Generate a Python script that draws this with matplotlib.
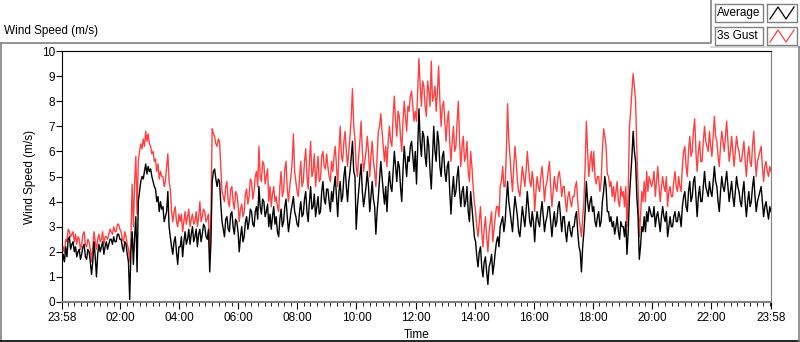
import numpy as np
import matplotlib.pyplot as plt
from matplotlib.lines import Line2D
from matplotlib.ticker import FixedLocator

# Wind speed (m/s) read every 2.5 minutes from 23:58, one row per hour
avg = [
    1.5, 1.9, 1.6, 2.2, 1.8, 2.5, 2.6, 2.1, 2.3, 2.4, 2.0, 2.2, 1.8, 2.0, 2.1, 1.7, 1.9, 2.2, 2.3, 1.8, 1.7, 2.1, 2.0, 1.6,
    1.1, 1.6, 2.4, 1.8, 1.0, 1.9, 2.3, 2.0, 2.2, 2.4, 1.9, 2.2, 2.4, 2.1, 2.3, 2.5, 2.5, 2.3, 2.6, 2.4, 2.4, 2.7, 2.7, 2.5,
    2.5, 2.2, 2.0, 2.4, 2.3, 1.9, 1.6, 0.1, 2.0, 2.8, 1.5, 2.6, 3.4, 1.2, 4.0, 4.4, 4.8, 5.0, 4.9, 5.2, 5.5, 5.1, 5.4, 5.2,
    5.3, 5.0, 4.8, 4.6, 4.5, 4.0, 4.2, 3.6, 4.0, 3.7, 3.8, 3.2, 3.4, 3.6, 4.4, 3.0, 2.6, 2.2, 1.9, 2.4, 2.6, 2.0, 1.5, 2.2,
    2.2, 2.6, 1.8, 2.4, 2.8, 2.3, 2.5, 2.9, 2.3, 2.7, 3.0, 2.4, 2.6, 2.9, 2.2, 2.7, 2.9, 2.4, 2.7, 3.1, 3.0, 2.6, 2.5, 2.9,
    1.2, 2.4, 4.8, 5.2, 5.3, 4.9, 4.6, 4.9, 4.8, 3.9, 3.2, 2.9, 2.6, 3.3, 3.4, 2.9, 2.8, 3.5, 3.6, 3.0, 2.7, 3.3, 3.2, 2.8,
    2.0, 2.6, 3.0, 2.4, 2.6, 3.2, 3.4, 2.9, 3.2, 3.7, 3.6, 3.1, 3.0, 3.6, 3.8, 3.3, 4.6, 3.8, 3.5, 4.1, 4.0, 3.4, 3.6, 3.9,
    3.0, 3.5, 2.9, 3.4, 3.8, 3.1, 3.4, 2.8, 2.6, 3.3, 3.7, 3.0, 3.2, 3.8, 4.1, 3.4, 2.8, 3.2, 3.6, 3.9, 4.2, 3.6, 3.4, 3.1,
    3.0, 3.6, 4.0, 3.4, 3.5, 4.1, 4.4, 3.6, 3.2, 4.0, 4.6, 3.7, 3.8, 4.3, 3.4, 3.8, 4.2, 3.5, 3.6, 4.4, 4.8, 4.1, 3.9, 4.5,
    4.5, 4.0, 3.6, 4.4, 4.0, 4.6, 5.0, 4.2, 3.4, 4.4, 4.8, 4.0, 4.2, 5.0, 5.4, 4.6, 4.0, 4.8, 5.2, 5.8, 6.4, 5.2, 5.0, 2.9,
    3.8, 4.4, 5.0, 5.5, 4.4, 3.8, 4.2, 4.6, 5.2, 4.6, 3.6, 4.2, 4.8, 4.1, 3.8, 2.7, 3.6, 4.2, 4.9, 5.6, 5.0, 4.4, 3.9, 4.6,
    3.6, 4.6, 5.2, 4.6, 4.4, 5.2, 6.0, 5.4, 4.8, 5.6, 5.4, 4.6, 4.0, 5.2, 6.2, 5.6, 5.0, 5.8, 5.6, 6.2, 6.4, 5.8, 5.2, 6.0,
    4.7, 6.2, 7.7, 6.4, 5.8, 6.8, 6.6, 5.8, 5.4, 6.6, 6.2, 5.2, 4.5, 5.8, 7.0, 6.0, 5.6, 6.8, 6.4, 5.4, 5.0, 5.8, 6.0, 5.2,
    4.8, 5.4, 5.6, 4.4, 3.5, 4.4, 5.0, 4.2, 4.4, 5.0, 5.4, 4.4, 3.8, 4.4, 4.6, 3.8, 4.0, 4.6, 3.6, 3.2, 4.4, 3.8, 3.2, 2.6,
    2.4, 1.8, 1.4, 2.0, 2.2, 1.4, 1.0, 1.6, 1.8, 1.2, 0.7, 1.4, 1.6, 1.9, 1.1, 1.5, 2.0, 2.4, 2.6, 2.2, 3.0, 3.2, 3.4, 2.8,
    3.2, 4.0, 4.8, 4.0, 3.6, 3.2, 2.8, 3.6, 4.2, 3.8, 3.4, 2.8, 2.6, 3.2, 3.8, 3.4, 3.0, 3.6, 4.4, 3.8, 3.2, 3.0, 3.6, 3.2,
    2.4, 3.2, 3.6, 3.2, 3.0, 3.6, 4.0, 3.4, 2.8, 3.2, 3.4, 3.8, 3.8, 3.2, 2.6, 3.2, 3.6, 3.0, 3.2, 3.8, 4.0, 3.4, 2.8, 3.4,
    3.4, 2.8, 2.4, 3.0, 3.2, 2.8, 2.6, 3.0, 3.0, 3.4, 3.6, 2.8, 2.2, 2.0, 1.2, 2.2, 2.8, 3.6, 4.8, 4.0, 3.6, 4.0, 4.2, 3.6,
    3.8, 3.2, 3.0, 3.4, 3.6, 3.0, 3.2, 4.0, 4.4, 5.0, 4.6, 3.6, 3.6, 3.2, 3.4, 3.0, 3.2, 2.7, 3.0, 3.4, 2.8, 2.5, 3.2, 3.0,
    3.0, 2.6, 3.2, 1.9, 2.8, 4.2, 5.0, 5.8, 6.8, 6.0, 5.6, 4.2, 3.4, 1.7, 2.2, 3.0, 2.8, 3.4, 2.8, 3.6, 3.2, 3.8, 3.6, 3.4,
    3.4, 3.8, 3.0, 3.4, 3.6, 3.2, 2.8, 3.4, 3.8, 3.4, 3.2, 3.6, 2.6, 3.0, 3.4, 3.0, 3.0, 3.4, 3.6, 3.2, 3.2, 3.6, 3.4, 3.0,
    3.8, 4.2, 4.4, 3.8, 3.6, 4.4, 4.8, 4.0, 4.2, 4.8, 5.0, 4.2, 3.4, 4.2, 4.6, 4.0, 4.0, 4.6, 5.2, 4.6, 4.4, 4.2, 4.8, 4.4,
    4.2, 4.8, 5.4, 4.8, 4.6, 4.0, 3.6, 4.4, 5.0, 4.6, 4.4, 4.8, 5.2, 4.6, 4.0, 4.4, 4.8, 4.2, 3.8, 4.4, 5.0, 4.6, 4.4, 4.0,
    3.8, 4.4, 4.8, 4.0, 3.4, 4.0, 4.4, 3.8, 4.0, 4.6, 5.0, 4.2, 3.6, 4.0, 4.2, 4.4, 4.6, 4.0, 3.4, 3.8, 4.0, 3.6, 3.3, 3.8,
    3.6,
]
gust = [
    1.8, 2.2, 2.0, 2.5, 2.4, 2.9, 2.8, 2.6, 2.7, 2.8, 2.4, 2.7, 2.3, 2.6, 2.5, 2.1, 2.3, 2.7, 2.8, 2.3, 2.2, 2.5, 2.4, 2.1,
    1.6, 2.2, 2.8, 2.4, 2.1, 2.5, 2.7, 2.4, 2.5, 2.8, 2.3, 2.6, 2.6, 2.5, 2.7, 2.9, 2.8, 2.7, 3.0, 2.8, 2.8, 3.1, 3.1, 2.9,
    2.8, 2.5, 2.4, 2.8, 2.6, 2.3, 2.1, 1.6, 2.6, 4.7, 3.0, 4.8, 5.8, 3.5, 5.6, 6.0, 6.3, 6.1, 6.5, 6.2, 6.8, 6.4, 6.7, 6.3,
    6.2, 5.9, 6.0, 5.6, 5.7, 5.2, 5.5, 4.9, 5.2, 5.0, 5.0, 4.6, 4.8, 5.4, 5.9, 4.8, 4.5, 3.6, 3.2, 3.6, 3.8, 3.2, 3.0, 3.5,
    3.2, 3.5, 2.8, 3.2, 3.6, 3.1, 3.4, 3.7, 3.0, 3.3, 3.5, 3.1, 3.2, 3.6, 3.0, 3.4, 4.0, 3.2, 3.4, 3.7, 3.6, 3.2, 3.3, 3.5,
    1.8, 3.5, 6.9, 6.7, 6.6, 6.3, 6.2, 6.5, 6.4, 5.4, 4.4, 4.2, 4.0, 4.6, 4.8, 4.0, 3.8, 4.5, 4.6, 4.0, 3.7, 4.4, 4.3, 3.9,
    3.2, 3.7, 3.9, 3.4, 3.6, 4.3, 4.5, 3.9, 4.2, 4.9, 4.8, 4.1, 4.4, 5.0, 5.2, 4.6, 6.2, 5.0, 4.8, 5.6, 5.5, 4.7, 5.0, 5.3,
    4.0, 4.6, 3.8, 4.3, 4.6, 4.0, 4.2, 3.8, 3.6, 4.6, 5.2, 4.2, 4.4, 5.3, 5.6, 4.5, 4.0, 4.6, 5.0, 5.6, 6.7, 5.2, 4.8, 4.4,
    4.2, 5.0, 5.6, 4.6, 4.8, 5.6, 6.1, 5.0, 4.5, 5.6, 6.4, 5.0, 5.2, 5.9, 4.6, 5.2, 5.8, 4.8, 4.9, 5.8, 6.0, 5.4, 5.3, 5.9,
    5.4, 5.0, 4.8, 5.6, 5.2, 5.8, 6.2, 5.4, 4.6, 6.0, 7.0, 5.8, 5.6, 6.4, 6.8, 6.0, 5.4, 6.0, 6.6, 7.4, 8.5, 7.0, 6.5, 5.4,
    5.0, 5.8, 6.4, 7.2, 6.0, 5.2, 5.6, 6.0, 6.6, 6.0, 5.0, 5.8, 6.4, 5.6, 5.2, 4.6, 5.8, 6.8, 7.0, 7.5, 6.8, 6.2, 5.6, 6.2,
    5.4, 6.4, 7.0, 6.4, 6.2, 7.4, 8.2, 7.2, 6.6, 7.6, 7.4, 6.6, 6.0, 7.2, 8.0, 7.4, 6.8, 7.8, 7.6, 8.2, 8.4, 7.8, 7.2, 7.6,
    7.2, 8.4, 9.7, 8.6, 7.8, 8.8, 8.6, 7.8, 7.4, 8.8, 8.4, 7.8, 9.6, 8.0, 8.2, 8.6, 7.6, 8.4, 9.4, 8.0, 7.0, 7.8, 8.0, 7.2,
    6.4, 7.2, 7.6, 6.4, 5.6, 6.4, 7.0, 6.0, 6.2, 7.2, 8.0, 6.4, 5.4, 6.2, 6.6, 5.6, 5.8, 6.4, 5.2, 4.8, 6.0, 5.4, 4.6, 4.0,
    3.6, 3.0, 2.6, 3.2, 3.8, 2.8, 2.2, 2.9, 3.4, 2.6, 2.0, 2.8, 3.2, 3.6, 2.4, 2.9, 3.4, 3.8, 3.8, 3.4, 4.6, 4.8, 5.4, 4.6,
    4.6, 6.0, 7.9, 6.4, 5.8, 5.0, 4.4, 5.4, 6.2, 5.6, 4.8, 4.4, 4.2, 4.8, 5.4, 5.0, 4.6, 5.2, 6.0, 5.4, 4.8, 4.6, 5.2, 4.8,
    3.6, 4.4, 5.0, 4.6, 4.4, 5.0, 5.4, 4.8, 4.0, 4.6, 4.8, 5.2, 5.6, 4.6, 3.8, 4.4, 5.0, 4.6, 4.4, 5.0, 5.2, 4.8, 4.2, 4.6,
    4.6, 4.0, 3.6, 4.2, 4.4, 4.0, 3.8, 4.2, 4.2, 4.6, 4.8, 4.0, 3.4, 3.0, 2.6, 3.4, 4.0, 5.4, 7.2, 6.0, 5.0, 5.6, 6.0, 5.2,
    6.0, 5.0, 4.7, 5.0, 5.0, 4.4, 4.8, 6.0, 6.9, 6.6, 6.2, 5.1, 5.0, 4.6, 4.8, 4.2, 4.6, 4.0, 4.4, 4.8, 4.0, 3.8, 4.6, 4.2,
    4.4, 3.8, 4.6, 3.0, 4.4, 7.0, 7.6, 8.4, 9.1, 8.6, 8.0, 6.0, 4.6, 2.6, 3.4, 4.4, 4.0, 4.8, 4.0, 5.2, 4.4, 5.0, 4.8, 4.6,
    4.8, 5.2, 4.2, 4.8, 5.4, 4.6, 4.0, 4.6, 5.0, 4.6, 4.4, 5.0, 3.8, 4.4, 4.6, 4.2, 4.2, 4.8, 5.2, 4.6, 4.4, 5.0, 4.6, 4.4,
    5.4, 6.0, 6.2, 5.4, 5.0, 6.0, 6.6, 5.8, 6.0, 6.8, 7.3, 6.0, 5.2, 6.0, 6.4, 5.6, 5.6, 6.4, 7.0, 6.4, 6.2, 6.0, 6.8, 6.2,
    5.8, 6.6, 7.4, 6.6, 6.4, 5.8, 5.4, 6.2, 6.8, 6.4, 6.0, 6.6, 7.2, 6.4, 5.6, 6.0, 6.6, 6.0, 5.4, 6.0, 6.6, 6.2, 6.0, 5.6,
    5.6, 6.0, 6.4, 5.6, 5.0, 5.8, 6.2, 5.6, 5.4, 6.2, 6.8, 5.8, 5.0, 5.6, 5.8, 6.0, 6.2, 5.4, 4.8, 5.4, 5.6, 5.2, 5.0, 5.4,
    5.2,
]
tick_labels = ['23:58', '02:00', '04:00', '06:00', '08:00', '10:00', '12:00',
               '14:00', '16:00', '18:00', '20:00', '22:00', '23:58']

hours = np.arange(len(avg)) / 24.0   # hours since 23:58
tick_pos = [0] + [2 * k - 2 / 60 for k in range(1, 12)] + [24]

plt.rcParams['font.family'] = ['Liberation Sans', 'DejaVu Sans']
fig = plt.figure(figsize=(8, 3.42), dpi=100)
W, H = 800, 342
ax = fig.add_axes([62 / W, (H - 302) / H, (771 - 62) / W, (302 - 51) / H])

ax.plot(hours, gust, color='#ff4040', lw=1.0)
ax.plot(hours, avg, color='black', lw=1.0)

ax.set_xlim(0, 24)
ax.set_ylim(0, 10)
ax.set_yticks(range(0, 11))
ax.xaxis.set_major_locator(FixedLocator(tick_pos))
ax.set_xticklabels(tick_labels)
minor = list(np.arange(2 - 2 / 60, -0.01, -2 / 9)) + list(np.arange(2 - 2 / 60, 24, 2 / 9))
ax.xaxis.set_minor_locator(FixedLocator(minor))
ax.tick_params(axis='x', which='major', length=5, labelsize=8.5, pad=2, direction='out')
ax.tick_params(axis='x', which='minor', length=3, direction='out')
ax.tick_params(axis='y', length=4, labelsize=8.5, pad=1)
ax.set_xlabel('Time', fontsize=8.5, labelpad=4)
ax.set_ylabel('Wind Speed (m/s)', fontsize=8.5, labelpad=4)
for s in ['top', 'left']:
    ax.spines[s].set_color('black')
for s in ['bottom', 'right']:
    ax.spines[s].set_color('#808080')
ax.spines['bottom'].set_linewidth(1.5)

# title and panel frame
fig.text(4 / W, 1 - 31 / H, 'Wind Speed (m/s)', fontsize=8.5, va='center', ha='left')
def fl(xs, ys, **kw):
    fig.add_artist(Line2D([x / W for x in xs], [1 - y / H for y in ys],
                          transform=fig.transFigure, **kw))
fl([0, 711, 711], [42.5, 42.5, 0], color='#808080', lw=1.2)
fl([711, 800], [47, 47], color='#d0d0d0', lw=1.2)
fl([1, 1], [42.5, 342], color='#808080', lw=1.2)
fl([0, 800], [341, 341], color='black', lw=1.2)
fl([799, 799], [47, 342], color='#808080', lw=1.2)

# legend
for i, (name, col) in enumerate([('Average', 'black'), ('3s Gust', '#ff4040')]):
    y0 = 4 + i * 23
    fig.text(717 / W, 1 - (y0 + 9) / H, name, fontsize=8.5, va='center', ha='left')
    fl([715, 763, 763, 715, 715], [y0, y0, y0 + 18, y0 + 18, y0], color='#808080', lw=1)
    fl([767, 797, 797, 767, 767], [y0, y0, y0 + 18, y0 + 18, y0], color='#808080', lw=1)
    fl([770, 778, 786, 794], [y0 + 15, y0 + 3, y0 + 15, y0 + 3], color=col, lw=0.9)

fig.savefig('out.png', dpi=100)
